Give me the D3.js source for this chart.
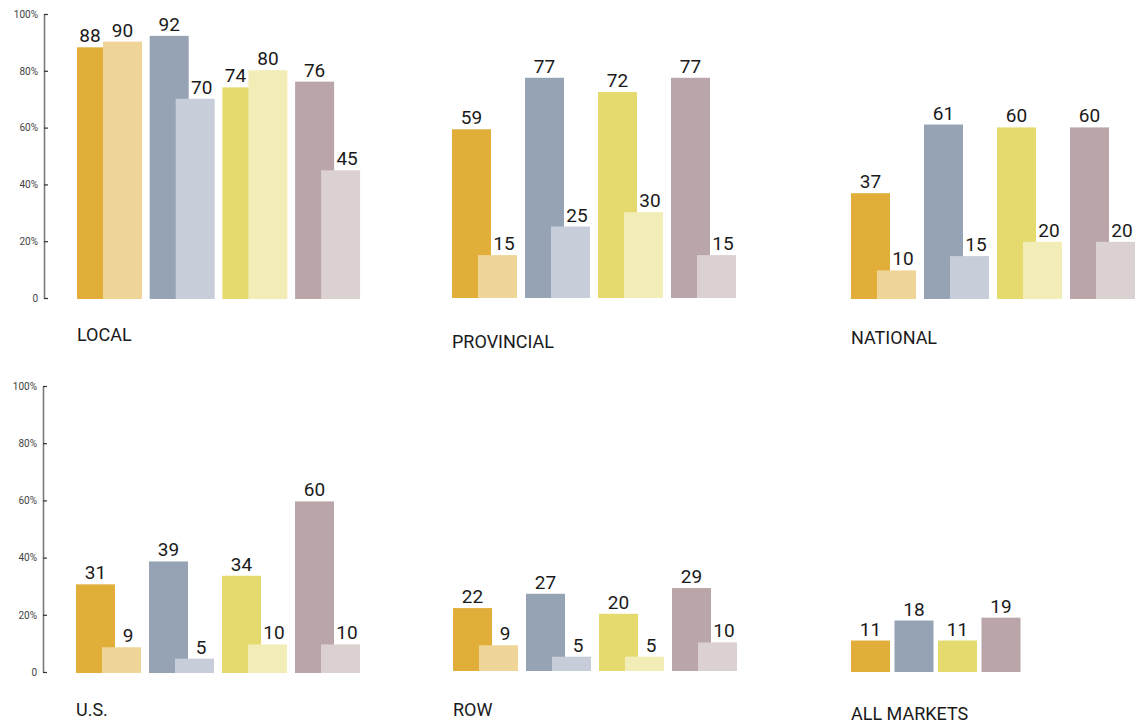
<!DOCTYPE html>
<html>
<head>
<meta charset="utf-8">
<script src="https://cdn.jsdelivr.net/npm/d3@7"></script>
<style>
  html, body { margin: 0; padding: 0; background: #fff; }
  svg { display: block; font-family: Roboto, "Liberation Sans", sans-serif; }
</style>
</head>
<body>
<svg id="chart" width="1147" height="723"></svg>
<script>
// ---- data ----
const panelNames = ["LOCAL", "PROVINCIAL", "NATIONAL", "U.S.", "ROW", "ALL MARKETS"];
const localDark = [88, 92, 74, 76];
const localLight = [90, 70, 80, 45];
const provincialDark = [59, 77, 72, 77];
const provincialLight = [15, 25, 30, 15];
const nationalDark = [37, 61, 60, 60];
const nationalLight = [10, 15, 20, 20];
const usDark = [31, 39, 34, 60];
const usLight = [9, 5, 10, 10];
const rowDark = [22, 27, 20, 29];
const rowLight = [9, 5, 5, 10];
const allDark = [11, 18, 11, 19];
const groups = ["g1", "g2", "g3", "g4"];
const tickValues = [0, 20, 40, 60, 80, 100];
const tickLabels = ["0", "20%", "40%", "60%", "80%", "100%"];

const darkColors = ["#E1AE3A", "#95A3B5", "#E4DA6D", "#BAA6A8"];
const lightColors = ["#EFD597", "#C7CEDA", "#F2EDB6", "#DBD1D1"];

// layout
const panels = [
  { name: panelNames[0], dark: localDark, light: localLight, x0: 77, base: 299, tx: 77, ty: 341, step: 72.7 },
  { name: panelNames[1], dark: provincialDark, light: provincialLight, x0: 452, base: 298, tx: 452, ty: 348, step: 73 },
  { name: panelNames[2], dark: nationalDark, light: nationalLight, x0: 851, base: 299, tx: 851, ty: 344, step: 73 },
  { name: panelNames[3], dark: usDark, light: usLight, x0: 76, base: 673, tx: 76, ty: 716, step: 73 },
  { name: panelNames[4], dark: rowDark, light: rowLight, x0: 453, base: 671, tx: 453, ty: 716, step: 73 },
  { name: panelNames[5], dark: allDark, light: null, x0: 851, base: 672, tx: 851, ty: 720, step: 43.5 }
];
const axes = [
  { x: 44, y0: 298, y100: 14 },
  { x: 43, y0: 672, y100: 386 }
];

const barW = 39, offset = 26, unitH = 2.86;

const svg = d3.select("#chart");

panels.forEach(p => {
  const groupW = p.light ? barW + offset : barW;
  const gap = p.step - groupW;
  const W = 4 * p.step - gap;
  const x = d3.scaleBand().domain(groups).range([p.x0, p.x0 + W])
    .paddingInner(gap / p.step).paddingOuter(0);
  const y = d3.scaleLinear().domain([0, 100]).range([p.base, p.base - 100 * unitH]);
  const g = svg.append("g");

  groups.forEach((k, i) => {
    const dx = x(k);
    const dv = p.dark[i];
    g.append("rect").attr("x", dx).attr("y", y(dv)).attr("width", barW)
      .attr("height", y(0) - y(dv)).attr("fill", darkColors[i]);
    let dCenter = dx + barW / 2;
    if (p.light) {
      const lv = p.light[i];
      const lx = dx + offset;
      g.append("rect").attr("x", lx).attr("y", y(lv)).attr("width", barW)
        .attr("height", y(0) - y(lv)).attr("fill", lightColors[i]);
      // label centred over the visible top part of each bar
      let lCenter = lx + barW / 2;
      if (lv < dv) lCenter = (dx + barW + lx + barW) / 2;
      else dCenter = (dx + lx) / 2;
      g.append("text").attr("x", lCenter).attr("y", y(lv) - 5)
        .attr("text-anchor", "middle").attr("font-size", 19).attr("fill", "#1a1a1a")
        .text(lv);
    }
    g.append("text").attr("x", dCenter).attr("y", y(dv) - 5)
      .attr("text-anchor", "middle").attr("font-size", 19).attr("fill", "#1a1a1a")
      .text(dv);
  });

  g.append("text").attr("x", p.tx).attr("y", p.ty).attr("font-size", 18)
    .attr("fill", "#1a1a1a").text(p.name);
});

axes.forEach(a => {
  const ya = d3.scaleLinear().domain([0, 100]).range([a.y0, a.y100]);
  const ax = d3.axisLeft(ya).tickValues(tickValues)
    .tickFormat((d, i) => tickLabels[i])
    .tickSizeInner(-4).tickSizeOuter(0).tickPadding(6);
  const ag = svg.append("g").attr("transform", `translate(${a.x},0)`).call(ax);
  ag.select(".domain").attr("stroke", "#7a7a7a").attr("stroke-width", 1.6);
  ag.selectAll(".tick line").attr("stroke", "#333").attr("stroke-width", 1.2);
  ag.selectAll(".tick text").attr("font-size", 10).attr("fill", "#444")
    .attr("font-family", "Roboto, 'Liberation Sans', sans-serif");
});
</script>
</body>
</html>
